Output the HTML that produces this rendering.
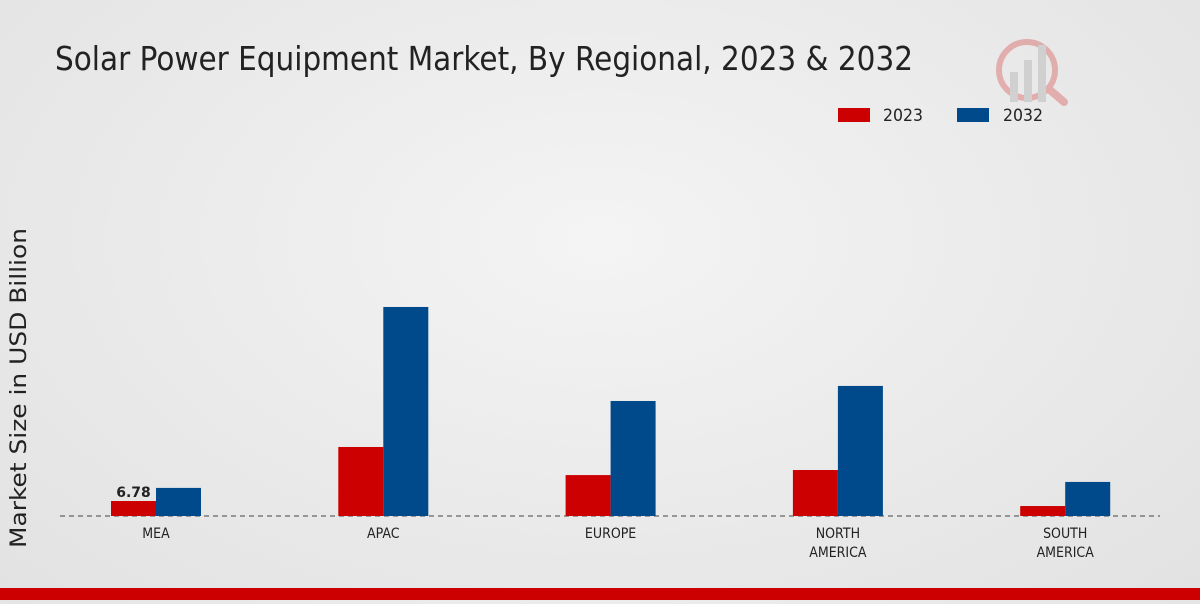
<!DOCTYPE html>
<html><head><meta charset="utf-8"><style>
body{margin:0;width:1200px;height:600px;overflow:hidden;background:radial-gradient(ellipse at 50% 40%,#f4f4f4 0%,#e9e9e9 60%,#e2e2e2 100%);font-family:"DejaVu Sans","Liberation Sans",sans-serif;}
</style></head><body>
<svg width="1200" height="600" xmlns="http://www.w3.org/2000/svg">
<text x="55" y="70" font-size="33" fill="#222" textLength="858" lengthAdjust="spacingAndGlyphs">Solar Power Equipment Market, By Regional, 2023 &amp; 2032</text>
<g opacity="0.25">
<circle cx="1027" cy="70" r="28" fill="none" stroke="#c00" stroke-width="6"/>
<rect x="1010" y="72" width="8" height="30" fill="#888"/><rect x="1024" y="60" width="8" height="42" fill="#888"/><rect x="1038" y="45" width="8" height="57" fill="#888"/>
<line x1="1050" y1="90" x2="1064" y2="102" stroke="#c00" stroke-width="8" stroke-linecap="round"/>
</g>
<g>
<rect x="838" y="108" width="32" height="14" fill="#cc0000"/>
<text x="883" y="121" font-size="17" fill="#222" textLength="40" lengthAdjust="spacingAndGlyphs">2023</text>
<rect x="957" y="108" width="32" height="14" fill="#004a8c"/>
<text x="1003" y="121" font-size="17" fill="#222" textLength="40" lengthAdjust="spacingAndGlyphs">2032</text>
</g>
<text transform="translate(26,388) rotate(-90)" text-anchor="middle" font-size="22" fill="#222" textLength="320" lengthAdjust="spacingAndGlyphs">Market Size in USD Billion</text>
<line x1="60" y1="516" x2="1160" y2="516" stroke="#444" stroke-width="1" stroke-dasharray="5,4"/>
<g id="bars"></g>
<g id="labels"></g>
<rect x="0" y="588" width="1200" height="12" fill="#cc0000"/>
</svg>
<script>
const categories=[["MEA"],["APAC"],["EUROPE"],["NORTH","AMERICA"],["SOUTH","AMERICA"]];
const values2023=[6.78,31.2,18.5,20.8,4.5];
const values2032=[12.7,94.5,52,58.8,15.4];
const valueLabels=["6.78",null,null,null,null];
const NS="http://www.w3.org/2000/svg";
const baseY=516, pxPerUnit=2.212, x0=156, step=227.3, bw=45;
const yScale=v=>baseY-v*pxPerUnit;
const xCenter=i=>x0+i*step;
const bars=document.getElementById('bars'), labels=document.getElementById('labels');
function mk(tag,attrs){const e=document.createElementNS(NS,tag);for(const k in attrs)e.setAttribute(k,attrs[k]);return e;}
categories.forEach((c,i)=>{
  const cx=xCenter(i);
  const r1=mk('rect',{x:cx-bw,y:yScale(values2023[i]),width:bw,height:baseY-yScale(values2023[i]),fill:'#cc0000'});
  
  
  bars.appendChild(r1);
  const r2=mk('rect',{x:cx,y:yScale(values2032[i]),width:bw,height:baseY-yScale(values2032[i]),fill:'#004a8c'});
  
  
  bars.appendChild(r2);
  c.forEach((line,j)=>{
    const t=mk('text',{x:cx,y:538+j*19,'text-anchor':'middle','font-size':'14',fill:'#222',transform:'translate('+cx+',0) scale(0.9,1) translate('+(-cx)+',0)'});
    t.textContent=line;
    
    
    labels.appendChild(t);
  });
  if(valueLabels[i]){
    const v=mk('text',{x:cx-bw/2,y:yScale(values2023[i])-4,'text-anchor':'middle','font-size':'14','font-weight':'bold',fill:'#222'});
    v.textContent=valueLabels[i];
    
    
    labels.appendChild(v);
  }
});
</script>
</body></html>
